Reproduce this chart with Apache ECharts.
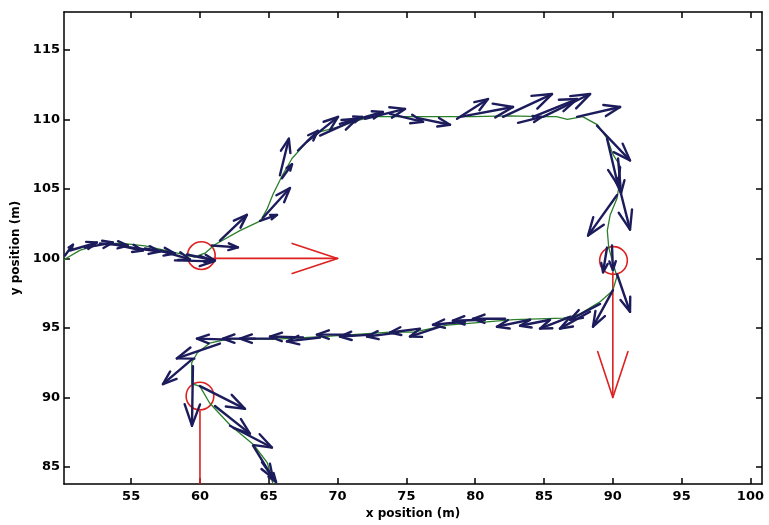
<!DOCTYPE html>
<html>
<head>
<meta charset="utf-8">
<script src="https://cdn.jsdelivr.net/npm/echarts@6/dist/echarts.min.js"></script>
<style>
html,body{margin:0;padding:0;background:#fff;}
#chart{width:769px;height:525px;}
</style>
</head>
<body>
<div id="chart"></div>
<script>
// Axis ranges and tick labels
const xRange = [50.12, 100.84];
const yRange = [83.77, 117.72];
const xTicks = [55, 60, 65, 70, 75, 80, 85, 90, 95, 100];
const yTicks = [85, 90, 95, 100, 105, 110, 115];

// Green trajectory (x, y) in metres
const pathXY = [
  [50.1,99.9],[51.3,100.6],[52.7,101.0],[54.2,101.1],[56.0,100.9],[57.8,100.5],[59.6,100.1],
  [60.4,100.4],[61.1,101.0],[62.9,102.0],[64.4,102.7],[64.9,103.6],[65.3,104.6],[66.0,106.0],
  [66.7,107.2],[67.8,108.4],[68.7,109.1],[70.2,109.5],[71.4,109.9],[72.6,110.2],[75.0,110.2],
  [77.4,110.2],[79.8,110.2],[82.5,110.25],[84.7,110.2],[85.9,110.2],[86.7,110.0],[87.8,110.2],
  [88.9,109.6],[89.6,108.6],[90.0,107.5],[90.5,106.7],[90.5,105.5],[90.3,104.3],[89.8,103.1],
  [89.6,102.0],[89.7,100.8],[90.0,99.7],[90.3,98.7],[90.0,97.7],[89.1,96.9],[87.6,96.0],
  [86.4,95.7],[82.8,95.6],[80.4,95.4],[78.0,95.2],[75.5,94.7],[73.8,94.7],[69.2,94.4],
  [65.6,94.2],[62.0,94.2],[60.7,93.9],[59.8,93.2],[59.4,92.5],[59.4,91.0],[60.0,90.8],
  [60.7,89.6],[62.2,88.0],[63.9,86.6],[64.9,85.3],[65.3,83.8]
];

// Navy quiver arrows: [x, y, u, v]
const quiver = [
  [50.19,100.21,0.58,0.78],[50.55,100.57,1.96,0.57],[51.64,100.78,2.03,0.36],[52.73,101.07,2.03,-0.14],
  [53.82,101.0,2.03,-0.43],[54.91,100.78,2.18,-0.28],[56.0,100.71,2.18,-0.36],[57.09,100.57,2.18,-0.64],
  [58.18,99.86,2.83,-0.07],[59.06,100.28,2.03,-0.43],[60.87,100.93,1.89,-0.14],
  [61.45,101.28,1.96,1.85],[64.36,102.70,1.24,0.43],[64.58,102.92,1.96,2.14],[65.81,105.98,0.65,2.63],
  [65.96,105.77,0.73,1.0],[67.78,108.40,2.25,1.78],[68.72,108.83,2.69,1.21],[67.12,107.76,1.45,1.42],
  [70.17,109.68,1.60,0.50],[71.26,109.96,2.03,0.57],[71.99,110.04,2.91,0.71],[73.81,110.39,2.40,-0.57],
  [75.77,110.11,2.40,-0.50],[78.68,110.04,2.25,1.42],[78.90,110.18,3.85,0.71],[82.02,110.18,3.56,1.64],
  [83.11,109.75,1.74,0.43],[84.20,110.18,3.20,1.28],[84.93,110.18,3.42,1.64],[87.40,110.18,3.13,0.71],
  [88.85,109.54,2.40,-2.49],[89.58,108.61,0.80,-3.35],[90.38,107.19,0.22,-2.49],[90.31,105.77,0.94,-3.70],
  [90.31,104.56,-2.11,-2.92],[89.58,100.78,-0.29,-1.78],[89.94,100.93,0.07,-1.78],[90.31,98.86,0.94,-2.70],
  [90.01,97.72,-1.45,-2.63],[89.07,96.73,-2.18,-1.14],[88.34,96.16,-2.18,-1.21],[86.89,95.80,-2.18,-0.85],
  [85.44,95.59,-2.18,-0.43],[83.98,95.59,-2.40,-0.50],[82.17,95.66,-2.33,0.0],[80.71,95.59,-2.33,-0.07],
  [79.26,95.44,-2.33,-0.21],[77.44,95.09,-2.18,-0.71],[75.99,94.95,-2.18,-0.28],[74.39,94.66,-2.25,-0.28],
  [72.50,94.52,-2.33,-0.14],[70.90,94.52,-2.40,0.0],[68.72,94.31,-2.40,-0.28],[67.49,94.31,-2.40,0.07],
  [65.31,94.23,-2.40,0.0],[64.0,94.23,-2.33,0.0],[62.18,94.16,-2.40,0.07],[61.45,93.88,-3.13,-1.07],
  [59.42,92.74,-2.11,-1.78],[59.49,92.24,-0.07,-4.27],[60.0,90.82,3.27,-1.64],[62.18,87.97,3.05,-1.57],
  [61.09,89.39,2.54,-1.99],[63.85,86.55,1.45,-2.35],[64.51,85.34,1.02,-1.42]
];

// Red landmark circles: [x, y, radius]
const circles = [[60.1,100.2,1.0],[90.05,99.85,1.0],[60.0,90.1,1.0]];
// Red direction arrows: [x, y, u, v, startOffset]
const redArrows = [[60,100,10,0,1.0],[90,100,0,-10,1.0],[60,90,0,-10,1.0]];

const NAVY = '#1c1b5c', GREEN = '#2a7f2a', RED = '#dd2020';
const FONT = 'DejaVu Sans';

function arrowShape(api, x, y, u, v, off, color, lw, a, b) {
  const p0 = api.coord([x, y]);
  const p1 = api.coord([x + u, y + v]);
  const dx = p1[0] - p0[0], dy = p1[1] - p0[1];
  const n = Math.sqrt(u*u + v*v) || 1;
  const s = [p0[0] + dx * off / n, p0[1] + dy * off / n];
  const b1 = [p1[0] - a*(dx + b*dy), p1[1] - a*(dy - b*dx)];
  const b2 = [p1[0] - a*(dx - b*dy), p1[1] - a*(dy + b*dx)];
  const style = {stroke: color, lineWidth: lw, fill: null, lineCap: 'round', lineJoin: 'round'};
  return {
    type: 'group',
    children: [
      {type: 'line', shape: {x1: s[0], y1: s[1], x2: p1[0], y2: p1[1]}, style: style},
      {type: 'polyline', shape: {points: [b1, p1, b2]}, style: style}
    ]
  };
}

const chart = echarts.init(document.getElementById('chart'), null, {renderer: 'canvas'});
const axisLineStyle = {color: '#000', width: 1.5};
const labelStyle = {color: '#000', fontFamily: FONT, fontWeight: 'bold', fontSize: 13};

chart.setOption({
  animation: false,
  backgroundColor: '#fff',
  grid: {left: 64, right: 7, top: 12, bottom: 36, containLabel: false},
  xAxis: [
    {
      type: 'value', min: xRange[0], max: xRange[1], position: 'bottom',
      name: 'x position (m)', nameLocation: 'middle', nameGap: 17,
      nameTextStyle: {color: '#000', fontFamily: FONT, fontWeight: 'bold', fontSize: 12},
      axisLine: {show: true, onZero: false, lineStyle: axisLineStyle},
      axisTick: {show: true, inside: true, length: 6, customValues: xTicks, lineStyle: {color: '#000', width: 1.5}},
      axisLabel: Object.assign({customValues: xTicks, margin: 6}, labelStyle),
      splitLine: {show: false}
    },
    {
      type: 'value', min: xRange[0], max: xRange[1], position: 'top',
      axisLine: {show: true, onZero: false, lineStyle: axisLineStyle},
      axisTick: {show: true, inside: true, length: 6, customValues: xTicks, lineStyle: {color: '#000', width: 1.5}},
      axisLabel: {show: false},
      splitLine: {show: false}
    }
  ],
  yAxis: [
    {
      type: 'value', min: yRange[0], max: yRange[1], position: 'left',
      name: 'y position (m)', nameLocation: 'middle', nameGap: 37,
      nameTextStyle: {color: '#000', fontFamily: FONT, fontWeight: 'bold', fontSize: 12},
      axisLine: {show: true, onZero: false, lineStyle: axisLineStyle},
      axisTick: {show: true, inside: true, length: 6, customValues: yTicks, lineStyle: {color: '#000', width: 1.5}},
      axisLabel: Object.assign({customValues: yTicks, margin: 4}, labelStyle),
      splitLine: {show: false}
    },
    {
      type: 'value', min: yRange[0], max: yRange[1], position: 'right',
      axisLine: {show: true, onZero: false, lineStyle: axisLineStyle},
      axisTick: {show: true, inside: true, length: 6, customValues: yTicks, lineStyle: {color: '#000', width: 1.5}},
      axisLabel: {show: false},
      splitLine: {show: false}
    }
  ],
  series: [
    {
      type: 'custom', name: 'landmarks', xAxisIndex: 0, yAxisIndex: 0, clip: true, z: 2,
      data: circles, encode: {x: 0, y: 1},
      renderItem: function (params, api) {
        const c = api.coord([api.value(0), api.value(1)]);
        const sz = api.size([api.value(2), api.value(2)]);
        return {type: 'circle', shape: {cx: c[0], cy: c[1], r: (sz[0] + sz[1]) / 2},
          style: {stroke: RED, lineWidth: 1.6, fill: null}};
      }
    },
    {
      type: 'custom', name: 'landmark directions', xAxisIndex: 0, yAxisIndex: 0, clip: true, z: 2,
      data: redArrows, encode: {x: 0, y: 1},
      renderItem: function (params, api) {
        return arrowShape(api, api.value(0), api.value(1), api.value(2), api.value(3), api.value(4), RED, 1.6, 0.33, 0.33);
      }
    },
    {
      type: 'line', name: 'path', xAxisIndex: 0, yAxisIndex: 0, data: pathXY, showSymbol: false,
      symbol: 'none', lineStyle: {color: GREEN, width: 1.3}, z: 3, clip: true
    },
    {
      type: 'custom', name: 'heading', xAxisIndex: 0, yAxisIndex: 0, clip: true, z: 4,
      data: quiver, encode: {x: 0, y: 1},
      renderItem: function (params, api) {
        return arrowShape(api, api.value(0), api.value(1), api.value(2), api.value(3), 0, NAVY, 2.4, 0.36, 0.36);
      }
    }
  ]
});
</script>
</body>
</html>
